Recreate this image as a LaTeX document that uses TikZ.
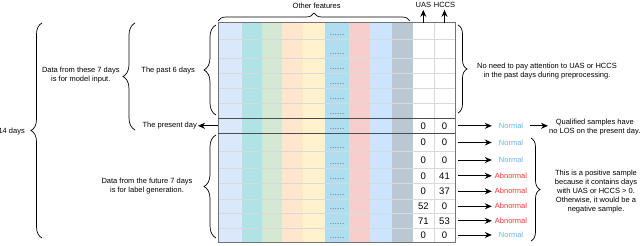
\documentclass[tikz,border=0pt]{standalone}
\usepackage{fontspec}
\setmainfont{Liberation Sans}
\usepackage{xcolor}
\usepackage{tikz}
\usetikzlibrary{arrows.meta,positioning,decorations.pathreplacing}
\definecolor{featblue}{HTML}{DAE8FC}
\definecolor{featteal}{HTML}{B0E3E6}
\definecolor{featgreen}{HTML}{D5E8D4}
\definecolor{featorange}{HTML}{FFE6CC}
\definecolor{featyellow}{HTML}{FFF2CC}
\definecolor{featsky}{HTML}{B1DDF0}
\definecolor{featpink}{HTML}{F8CECC}
\definecolor{featlight}{HTML}{CCE5FF}
\definecolor{featgray}{HTML}{BAC8D3}
\definecolor{normalblue}{HTML}{66B2FF}
\definecolor{abnormalred}{HTML}{FF3333}

\begin{document}
\begin{tikzpicture}[x=1pt, y=-1pt,
  txt/.style={font=\fontsize{7.5}{9}\selectfont, align=center, inner sep=1pt},
  num/.style={font=\fontsize{9.5}{10}\selectfont, inner sep=0pt,
    minimum width=21pt, minimum height=14pt},
  stat/.style={txt, minimum width=38pt},
  dots/.style={font=\fontsize{9}{9}\selectfont, text=black!55, inner sep=0pt},
  brc/.style={decorate, decoration={brace, amplitude=#1}, line width=0.7pt},
  arw/.style={->, line width=1pt},
  >={Stealth[length=7pt, width=6pt]}]
\useasboundingbox (0,0) rectangle (640,246);
\foreach \xa/\xb/\col in {218/242/featblue, 242/262/featteal, 262/282/featgreen,
    282/303/featorange, 303/325/featyellow, 325/349/featsky, 349/370/featpink,
    370/392/featlight, 392/413/featgray}
  \fill[\col] (\xa,22.7) rectangle (\xb,242);
\foreach \y in {39.3, 58.3, 73.5, 88.5, 103.5, 151.7, 168, 183.5, 199, 213.5, 228}
  \draw[black!15, line width=0.5pt] (218,\y) -- (455,\y);
\draw[black!15, line width=0.5pt] (434,22.7) -- (434,242);
\draw[black!55, line width=0.6pt] (218,22.7) rectangle (455,242);
\draw[black!70, line width=0.8pt] (218,118.3) -- (455,118.3) (218,133.3) -- (455,133.3);
\foreach \y [count=\i] in {35, 54, 69.5, 84.5, 99.5, 114.3, 129.3, 147.7, 164, 179.5, 195, 209.5, 224, 238}
  \node[dots] (dots\i) at (337,\y) {......};
\foreach \y/\u/\h/\s/\c [count=\i from 0] in {125.8/0/0/Normal/normalblue,
    142.5/0/0/Normal/normalblue, 160/0/0/Normal/normalblue,
    175.8/0/41/Abnormal/abnormalred, 191.3/0/37/Abnormal/abnormalred,
    206.3/52/0/Abnormal/abnormalred, 220.8/71/53/Abnormal/abnormalred,
    235/0/0/Normal/normalblue} {
  \node[num] (u\i) at (423.3,\y) {\u};
  \node[num] (h\i) at (444.5,\y) {\h};
  \node[stat, text=\c] (s\i) at (511,\y) {\s};
  \draw[arw, shorten <=3pt] (h\i) -- (s\i);
}
\node[txt] (other) at (316.7,6) {Other features};
\draw[brc=8pt] (218,21) -- (410,21);
\node[txt] (uas) at (423.3,4.5) {UAS};
\node[txt] (hccs) at (444.5,4.5) {HCCS};
\coordinate (uastop) at (423.3,22.7);
\coordinate (hccstop) at (444.5,22.7);
\draw[arw, shorten >=1.5pt] (uastop) -- (uas);
\draw[arw, shorten >=1.5pt] (hccstop) -- (hccs);
\coordinate (pdleft) at (218,125.8);
\node[txt, anchor=east] (present) at (198,125.8) {The present day};
\draw[arw] (pdleft) -- (present);
\draw[brc=12pt] (216,115) -- (216,25);
\node[txt, anchor=east] (past) at (196,71) {The past 6 days};
\draw[brc=12pt] (135,130) -- (135,23);
\node[txt] (input) at (80.8,75.5) {Data from these 7 days\\is for model input.};
\draw[brc=11pt] (42,238) -- (42,23);
\node[txt, anchor=east] (days) at (26,131.5) {14 days};
\draw[brc=12pt] (216,238) -- (216,135);
\node[txt] (future) at (147,186.5) {Data from the future 7 days\\is for label generation.};
\draw[brc=9pt] (458,25) -- (458,113);
\node[txt] (ignore) at (547,71.5) {No need to pay attention to UAS or HCCS\\in the past days during preprocessing.};
\node[txt, anchor=west] (qualified) at (548,127) {Qualified samples have\\no LOS on the present day.};
\draw[arw] (s0.east) -- (qualified.west |- s0.east);
\draw[brc=9pt] (531,138) -- (531,241);
\node[txt] (positive) at (596,191.5) {This is a positive sample\\because it contains days\\with UAS or HCCS > 0.\\Otherwise, it would be a\\negative sample.};
\end{tikzpicture}
\end{document}
